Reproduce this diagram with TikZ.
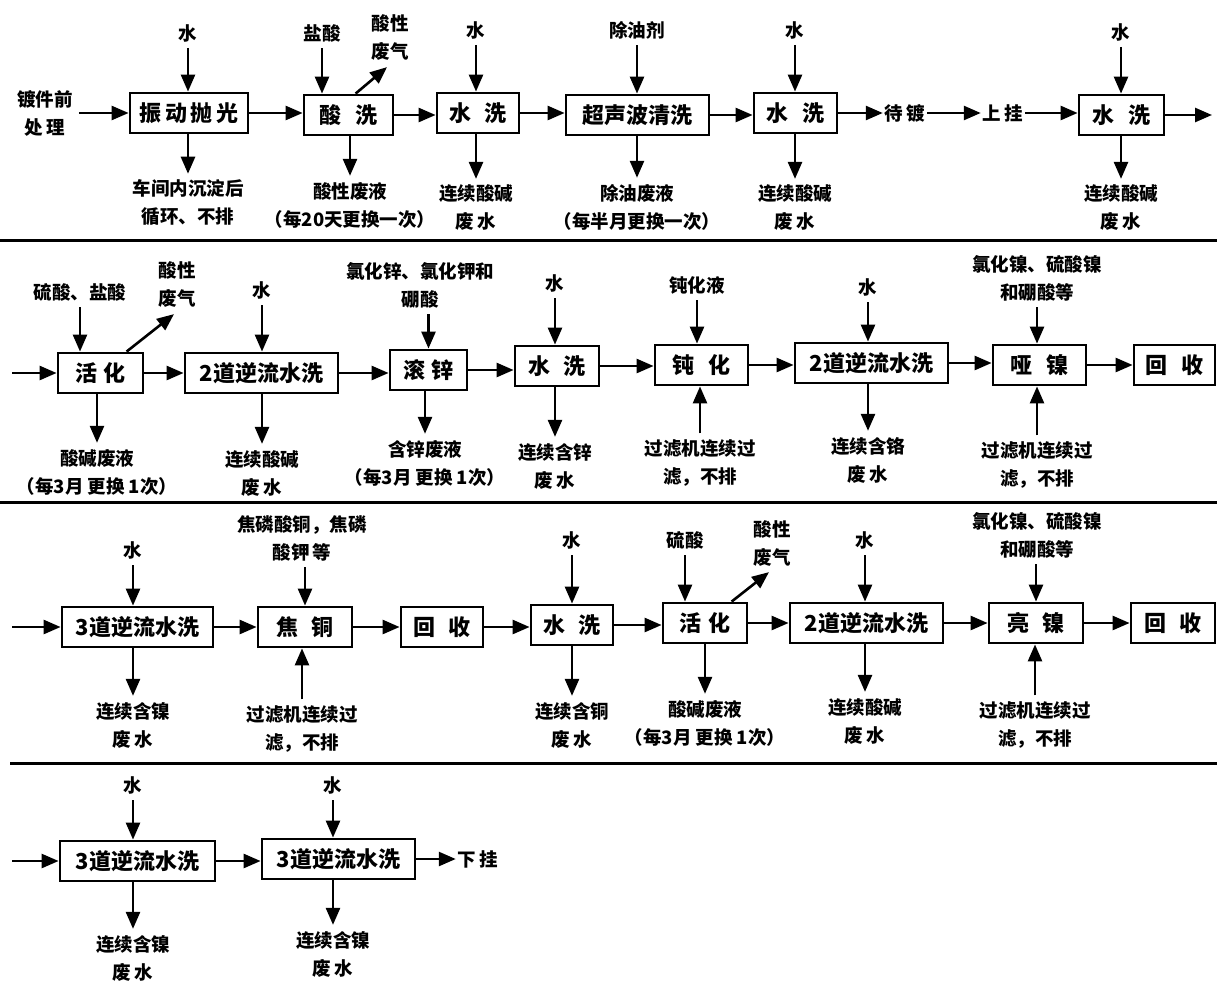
\documentclass[tikz,border=0pt]{standalone}
\usepackage{fontspec}
\setmainfont{Noto Sans CJK SC}
\usetikzlibrary{arrows.meta}
\begin{document}
\begin{tikzpicture}[x=1pt,y=-1pt,
 box/.style={draw,line width=2.8pt,minimum height=40pt,inner sep=0pt,font=\fontsize{22}{24}\selectfont\bfseries},
 lbl/.style={align=center,inner sep=6pt,font=\fontsize{18.5}{28}\selectfont\bfseries},
 arr/.style={line width=2.6pt,-{Triangle[length=17pt,width=14pt]}},
 sepline/.style={line width=3pt}]
\useasboundingbox (0,0) rectangle (1217,985);
% ---------------- row 1 ----------------
\node[box,minimum width=118pt] (b1) at (189,113) {振\,动\,抛\,光};
\node[box,minimum width=89pt] (b2) at (348.5,115) {酸\hspace{0.6em}洗};
\node[box,minimum width=82pt] (b3) at (478,113) {水\hspace{0.6em}洗};
\node[box,minimum width=143pt] (b4) at (637.5,115) {超声波清洗};
\node[box,minimum width=83pt] (b5) at (795.5,113) {水\hspace{0.6em}洗};
\node[box,minimum width=85pt] (b6) at (1121.5,115) {水\hspace{0.6em}洗};
\node[lbl] (pre) at (45,113) {镀件前\\处\,理};
\node[lbl] (t1) at (188,33) {水};
\node[lbl] (t2) at (322,33) {盐酸};
\node[lbl] (g2) at (390,38) {酸性\\废气};
\node[lbl] (t3) at (476,30) {水};
\node[lbl] (t4) at (637,30) {除油剂};
\node[lbl] (t5) at (795,30) {水};
\node[lbl] (t6) at (1121,32) {水};
\node[lbl] (o1) at (188,203) {车间内沉淀后\\循环、不排};
\node[lbl] (o2) at (350,205) {酸性废液\\（每20天更换一次）};
\node[lbl] (o3) at (476,208) {连续酸碱\\废\,水};
\node[lbl] (o4) at (637,207) {除油废液\\（每半月更换一次）};
\node[lbl] (o5) at (795,208) {连续酸碱\\废\,水};
\node[lbl] (o6) at (1121,208) {连续酸碱\\废\,水};
\node[lbl,inner sep=2pt] (dd) at (905,113) {待\,镀};
\node[lbl,inner sep=2pt] (sg) at (1003,113) {上\,挂};
\coordinate (out1) at (1212,115);
\draw[arr] (pre) -- (pre -| b1.west);
\draw[arr] (b1.east) -- (b1.east -| b2.west);
\draw[arr] (b2.east) -- (b2.east -| b3.west);
\draw[arr] (b3.east) -- (b3.east -| b4.west);
\draw[arr] (b4.east) -- (b4.east -| b5.west);
\draw[arr] (b5.east) -- (dd);
\draw[arr] (dd) -- (sg);
\draw[arr] (sg) -- (sg -| b6.west);
\draw[arr] (b6.east) -- (out1);
\foreach \t/\b in {t1/b1,t2/b2,t3/b3,t4/b4,t5/b5,t6/b6}{\draw[arr] (\t) -- (\t |- \b.north);}
\foreach \o/\b in {o1/b1,o2/b2,o3/b3,o4/b4,o5/b5,o6/b6}{\draw[arr] (\b.south -| \o) -- (\o);}
\draw[arr] ([xshift=53pt]b2.north west) -- ([xshift=-3pt]g2.south);
\draw[sepline] (0,240) -- (1217,240);
% ---------------- row 2 ----------------
\coordinate (in2) at (12,373);
\node[box,minimum width=85pt] (c1) at (100.5,373) {活\hspace{0.3em}化};
\node[box,minimum width=153pt] (c2) at (261.5,373) {2道逆流水洗};
\node[box,minimum width=77pt] (c3) at (428.5,370) {滚\hspace{0.3em}锌};
\node[box,minimum width=84pt] (c4) at (557,366) {水\hspace{0.6em}洗};
\node[box,minimum width=93pt] (c5) at (701.5,365) {钝\hspace{0.6em}化};
\node[box,minimum width=153pt] (c6) at (871.5,363) {2道逆流水洗};
\node[box,minimum width=93pt] (c7) at (1039.5,365) {哑\hspace{0.6em}镍};
\node[box,minimum width=81pt] (c8) at (1174.5,365) {回\hspace{0.6em}收};
\node[lbl] (s1) at (80,292) {硫酸、盐酸};
\node[lbl] (gs1) at (177,285) {酸性\\废气};
\node[lbl] (s2) at (262,290) {水};
\node[lbl] (s3) at (420,285) {氯化锌、氯化钾和\\硼酸};
\node[lbl] (s4) at (555,283) {水};
\node[lbl] (s5) at (697,285) {钝化液};
\node[lbl] (s6) at (868,287) {水};
\node[lbl] (s7) at (1037,278) {氯化镍、硫酸镍\\和硼酸等};
\node[lbl] (d1) at (97,472) {酸碱废液\\（每3月 更换 1次）};
\node[lbl] (d2) at (262,473) {连续酸碱\\废\,水};
\node[lbl] (d3) at (425,463) {含锌废液\\（每3月 更换 1次）};
\node[lbl] (d4) at (555,466) {连续含锌\\废\,水};
\node[lbl] (f5) at (700,463) {过滤机连续过\\滤，不排};
\node[lbl] (d6) at (868,460) {连续含铬\\废\,水};
\node[lbl] (f7) at (1037,465) {过滤机连续过\\滤，不排};
\draw[arr] (in2) -- (in2 -| c1.west);
\draw[arr] (c1.east) -- (c1.east -| c2.west);
\draw[arr] (c2.east) -- (c2.east -| c3.west);
\draw[arr] (c3.east) -- (c3.east -| c4.west);
\draw[arr] (c4.east) -- (c4.east -| c5.west);
\draw[arr] (c5.east) -- (c5.east -| c6.west);
\draw[arr] (c6.east) -- (c6.east -| c7.west);
\draw[arr] (c7.east) -- (c7.east -| c8.west);
\foreach \t/\b in {s1/c1,s2/c2,s4/c4,s5/c5,s6/c6,s7/c7}{\draw[arr] (\t) -- (\t |- \b.north);}
\draw[arr] (s3.south -| c3.north) -- (c3.north);
\foreach \o/\b in {d1/c1,d2/c2,d3/c3,d4/c4,d6/c6}{\draw[arr] (\b.south -| \o) -- (\o);}
\foreach \f/\b in {f5/c5,f7/c7}{\draw[arr] (\f) -- (\f |- \b.south);}
\draw[arr] ([xshift=70pt]c1.north west) -- ([xshift=-3pt]gs1.south);
\draw[sepline] (0,502) -- (1217,502);
% ---------------- row 3 ----------------
\coordinate (in3) at (12,627);
\node[box,minimum width=151pt] (e1) at (137.5,627) {3道逆流水洗};
\node[box,minimum width=94pt] (e2) at (305,627) {焦\hspace{0.6em}铜};
\node[box,minimum width=82pt] (e3) at (442,627) {回\hspace{0.6em}收};
\node[box,minimum width=82pt] (e4) at (572,625) {水\hspace{0.6em}洗};
\node[box,minimum width=84pt] (e5) at (705,623) {活\hspace{0.3em}化};
\node[box,minimum width=153pt] (e6) at (866.5,623) {2道逆流水洗};
\node[box,minimum width=94pt] (e7) at (1036,623) {亮\hspace{0.6em}镍};
\node[box,minimum width=84pt] (e8) at (1173,623) {回\hspace{0.6em}收};
\node[lbl] (r1) at (133,550) {水};
\node[lbl] (r2) at (302,538) {焦磷酸铜，焦磷\\酸钾\,等};
\node[lbl] (r4) at (572,540) {水};
\node[lbl] (r5) at (685,540) {硫酸};
\node[lbl] (g5) at (772,543) {酸性\\废气};
\node[lbl] (r6) at (865,540) {水};
\node[lbl] (r7) at (1037,535) {氯化镍、硫酸镍\\和硼酸等};
\node[lbl] (q1) at (133,725) {连续含镍\\废\,水};
\node[lbl] (f2) at (302,729) {过滤机连续过\\滤，不排};
\node[lbl] (q4) at (572,725) {连续含铜\\废\,水};
\node[lbl] (q5) at (705,723) {酸碱废液\\（每3月 更换 1次）};
\node[lbl] (q6) at (865,721) {连续酸碱\\废\,水};
\node[lbl] (f7b) at (1035,725) {过滤机连续过\\滤，不排};
\draw[arr] (in3) -- (in3 -| e1.west);
\draw[arr] (e1.east) -- (e1.east -| e2.west);
\draw[arr] (e2.east) -- (e2.east -| e3.west);
\draw[arr] (e3.east) -- (e3.east -| e4.west);
\draw[arr] (e4.east) -- (e4.east -| e5.west);
\draw[arr] (e5.east) -- (e5.east -| e6.west);
\draw[arr] (e6.east) -- (e6.east -| e7.west);
\draw[arr] (e7.east) -- (e7.east -| e8.west);
\foreach \t/\b in {r1/e1,r4/e4,r5/e5,r6/e6}{\draw[arr] (\t) -- (\t |- \b.north);}
\draw[arr] (r2.south -| e2.north) -- (e2.north);
\draw[arr] (r7.south -| e7.north) -- (e7.north);
\foreach \o/\b in {q1/e1,q4/e4,q5/e5,q6/e6}{\draw[arr] (\b.south -| \o) -- (\o);}
\foreach \f/\b in {f2/e2,f7b/e7}{\draw[arr] (\f) -- (\f |- \b.south);}
\draw[arr] ([xshift=70pt]e5.north west) -- ([xshift=-3pt]g5.south);
\draw[sepline] (10,763) -- (1217,763);
% ---------------- row 4 ----------------
\coordinate (in4) at (12,861);
\node[box,minimum width=155pt] (h1) at (137.5,861) {3道逆流水洗};
\node[box,minimum width=153pt] (h2) at (338.5,859) {3道逆流水洗};
\node[lbl] (u1) at (133,785) {水};
\node[lbl] (u2) at (333,785) {水};
\node[lbl] (v1) at (133,958) {连续含镍\\废\,水};
\node[lbl] (v2) at (333,954) {连续含镍\\废\,水};
\node[lbl,inner sep=2pt] (xg) at (478,859) {下\,挂};
\draw[arr] (in4) -- (in4 -| h1.west);
\draw[arr] (h1.east) -- (h1.east -| h2.west);
\draw[arr] (h2.east) -- (xg);
\foreach \t/\b in {u1/h1,u2/h2}{\draw[arr] (\t) -- (\t |- \b.north);}
\foreach \o/\b in {v1/h1,v2/h2}{\draw[arr] (\b.south -| \o) -- (\o);}
\end{tikzpicture}
\end{document}
